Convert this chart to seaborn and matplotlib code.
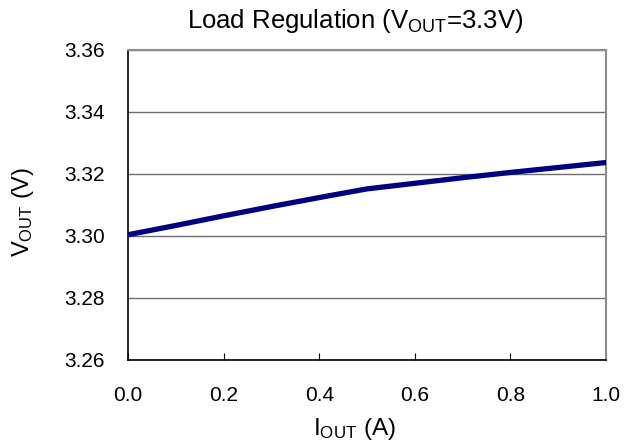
import matplotlib
matplotlib.use("Agg")
import matplotlib.pyplot as plt
import seaborn as sns
import pandas as pd

# Output current (A) and measured output voltage (V)
i_out = [0.0, 0.1, 0.2, 0.3, 0.4, 0.5, 0.6, 0.7, 0.8, 0.9, 1.0]
v_out = [3.3004, 3.3034, 3.3065, 3.3095, 3.3124, 3.3152, 3.3170, 3.3188, 3.3205, 3.3221, 3.3237]

x_ticks = [0.0, 0.2, 0.4, 0.6, 0.8, 1.0]
y_ticks = [3.26, 3.28, 3.30, 3.32, 3.34, 3.36]

sns.set_theme(style="white")
plt.rcParams["font.family"] = ["Liberation Sans", "DejaVu Sans"]
plt.rcParams["mathtext.fontset"] = "custom"
plt.rcParams["mathtext.rm"] = "Liberation Sans"
plt.rcParams["mathtext.it"] = "Liberation Sans"
plt.rcParams["text.color"] = "black"

W, H = 627, 444
df = pd.DataFrame({"I": i_out, "V": v_out})

fig = plt.figure(figsize=(W / 100, H / 100), dpi=100)
ax = fig.add_axes([128 / W, 1 - 360 / H, 478 / W, 310 / H])

sns.lineplot(data=df, x="I", y="V", ax=ax, color="#000080", linewidth=3.8,
             solid_capstyle="round", zorder=3)
ax.set_xlabel("")
ax.set_ylabel("")

ax.set_xlim(0.0, 1.0)
ax.set_ylim(3.26, 3.36)
ax.set_xticks(x_ticks)
ax.set_xticklabels([f"{t:.1f}" for t in x_ticks])
ax.set_yticks(y_ticks)
ax.set_yticklabels([f"{t:.2f}" for t in y_ticks])

ax.yaxis.grid(True, color="#6e6e6e", linewidth=1.0)
ax.xaxis.grid(False)

ax.tick_params(axis="x", direction="in", length=5, width=0.8, color="black",
               labelcolor="black", labelsize=15, pad=19, bottom=True)
ax.tick_params(axis="y", length=0, labelcolor="black", labelsize=15, pad=16.5)

for side in ["left", "bottom"]:
    ax.spines[side].set_color("black")
    ax.spines[side].set_linewidth(1.2)
for side in ["top", "right"]:
    ax.spines[side].set_color("#8c8c8c")
    ax.spines[side].set_linewidth(1.5)

fig.text(355 / W, 1 - 28 / H, r"Load Regulation ($\mathregular{V_{OUT}}$=3.3V)",
         fontsize=18.5, ha="center", va="baseline", color="black")
fig.text(354 / W, 1 - 435 / H, r"$\mathregular{I_{OUT}}$ (A)",
         fontsize=17.5, ha="center", va="baseline", color="black")
fig.text(23 / W, 1 - 212 / H, r"$\mathregular{V_{OUT}}$ (V)",
         fontsize=17, ha="center", va="center", rotation=90, color="black")

fig.savefig("out.png", dpi=100, facecolor="white")
